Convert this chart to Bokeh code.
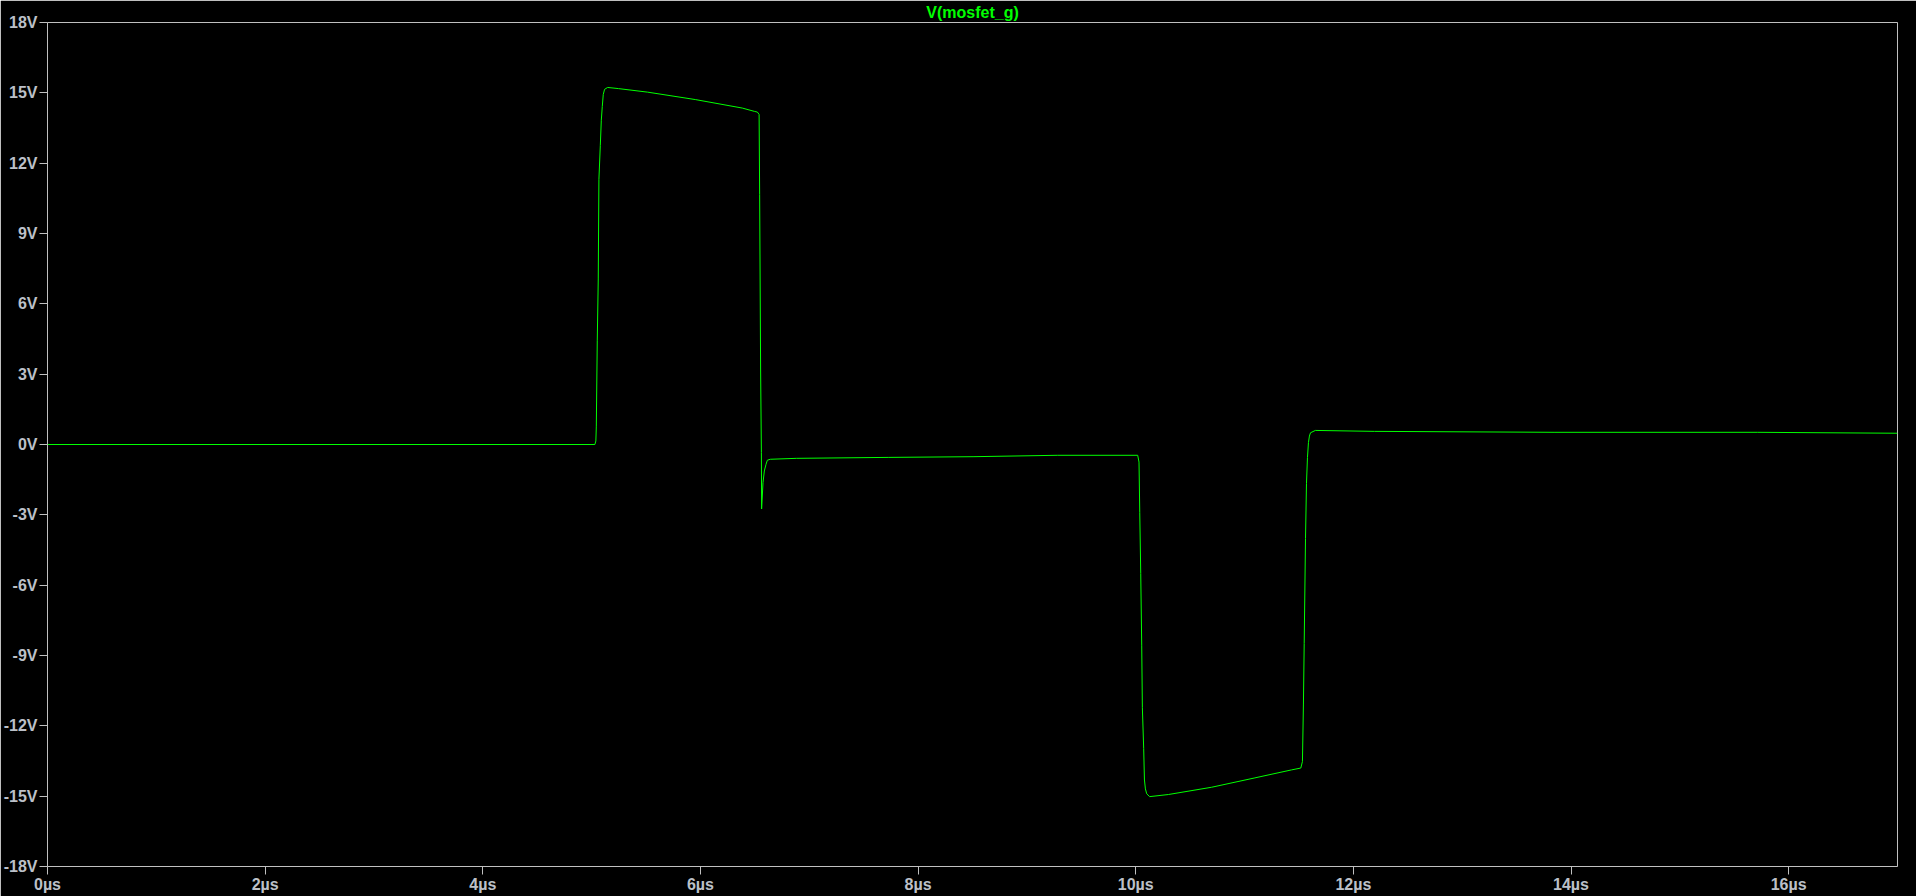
from bokeh.plotting import figure
from bokeh.models import FixedTicker, Range1d, Title
from bokeh.embed import file_html
from bokeh.resources import INLINE

# Time in microseconds, voltage in volts
t_us = [0.0, 5.030, 5.039, 5.043, 5.052, 5.061, 5.067, 5.080, 5.089, 5.098, 5.107, 5.119, 5.147,
        5.248, 5.514, 5.957, 6.385, 6.495, 6.523, 6.539,
        6.544, 6.553, 6.560, 6.562, 6.575, 6.587, 6.603, 6.615, 6.642,
        6.881, 7.725, 8.505, 9.284, 10.018,
        10.030, 10.037, 10.046, 10.055, 10.061, 10.073, 10.080, 10.089, 10.101, 10.128,
        10.300, 10.697, 11.095, 11.431, 11.517,
        11.532, 11.541, 11.548, 11.560, 11.569, 11.578, 11.587, 11.596, 11.606, 11.651,
        12.193, 13.844, 15.716, 17.0]
v_gate = [0.0, 0.0, 0.15, 0.75, 4.45, 7.06, 11.31, 12.76, 13.83, 14.42, 14.93, 15.15, 15.23,
          15.18, 15.03, 14.71, 14.35, 14.21, 14.18, 14.08,
          10.67, 3.22, -0.35, -2.75, -1.63, -1.13, -0.84, -0.67, -0.63,
          -0.59, -0.55, -0.52, -0.46, -0.46,
          -0.75, -2.91, -5.50, -8.59, -11.23, -12.96, -14.31, -14.69, -14.90, -15.02,
          -14.93, -14.62, -14.22, -13.88, -13.80,
          -13.52, -11.07, -8.49, -4.01, -1.67, -0.56, 0.08, 0.36, 0.50, 0.60,
          0.56, 0.52, 0.52, 0.48]

y_ticks = [-18, -15, -12, -9, -6, -3, 0, 3, 6, 9, 12, 15, 18]
y_tick_labels = ["-18V", "-15V", "-12V", "-9V", "-6V", "-3V", "0V", "3V", "6V", "9V", "12V", "15V", "18V"]
x_ticks = [0, 2, 4, 6, 8, 10, 12, 14, 16]
x_tick_labels = ["0µs", "2µs", "4µs", "6µs", "8µs", "10µs", "12µs", "14µs", "16µs"]
trace_name = "V(mosfet_g)"

GREEN = "#00ff00"
GREY = "#c0c0c0"
LABEL = "#bcc0c8"
FONT = "Liberation Sans"

p = figure(width=1916, height=896, output_backend="svg", toolbar_location=None,
           x_range=Range1d(0, 17), y_range=Range1d(-18, 18),
           min_border_left=44, min_border_right=19, min_border_top=21, min_border_bottom=30)
p.background_fill_color = "black"
p.border_fill_color = "black"
p.outline_line_color = GREY
p.outline_line_width = 1
p.grid.visible = False

p.line(t_us, v_gate, line_color=GREEN, line_width=1)

for ax in (p.xaxis[0], p.yaxis[0]):
    ax.axis_line_color = None
    ax.major_tick_line_color = GREY
    ax.major_tick_out = 8
    ax.major_tick_in = 0
    ax.minor_tick_line_color = None
    ax.major_label_text_color = LABEL
    ax.major_label_text_font = FONT
    ax.major_label_text_font_size = "16px"
    ax.major_label_text_font_style = "bold"

p.yaxis[0].ticker = FixedTicker(ticks=y_ticks)
p.yaxis[0].major_label_overrides = {k: s for k, s in zip(y_ticks, y_tick_labels)}
p.yaxis[0].major_label_standoff = 2
p.xaxis[0].ticker = FixedTicker(ticks=x_ticks)
p.xaxis[0].major_label_overrides = {k: s for k, s in zip(x_ticks, x_tick_labels)}
p.xaxis[0].major_label_standoff = 1

p.add_layout(Title(text=trace_name, align="center", text_color=GREEN, text_font=FONT,
                   text_font_size="16px", text_font_style="bold", standoff=3, offset=0),
             "above")

html = file_html(p, INLINE)
html = html.replace("<body>", '<body style="background:#000;">', 1)
open("out.html", "w").write(html)
